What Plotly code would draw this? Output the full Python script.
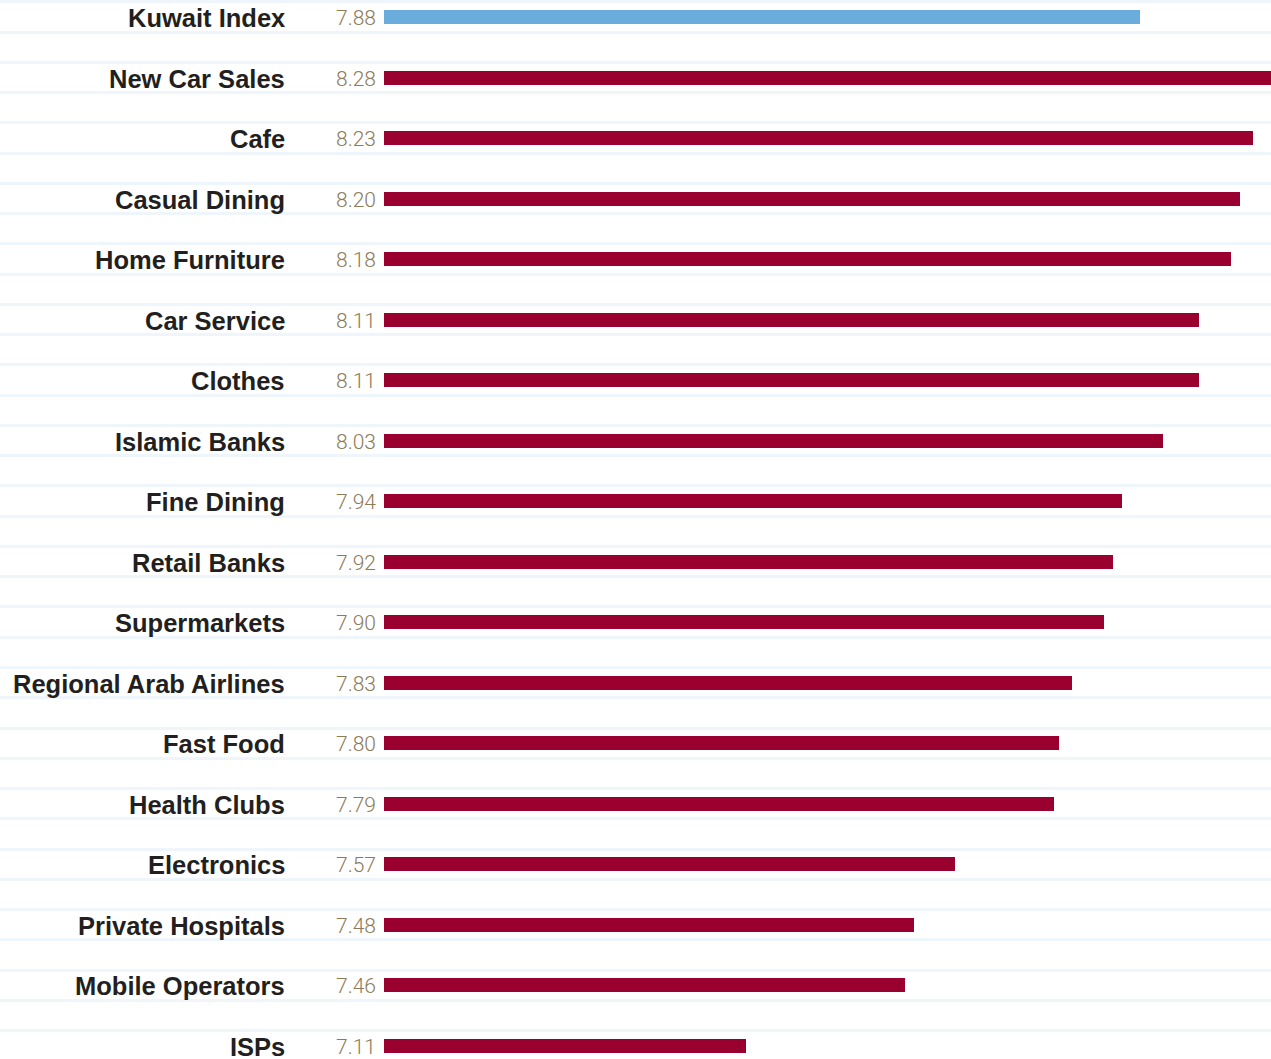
import plotly.graph_objects as go

# ---- data ----
categories = ["Kuwait Index", "New Car Sales", "Cafe", "Casual Dining", "Home Furniture",
              "Car Service", "Clothes", "Islamic Banks", "Fine Dining", "Retail Banks",
              "Supermarkets", "Regional Arab Airlines", "Fast Food", "Health Clubs",
              "Electronics", "Private Hospitals", "Mobile Operators", "ISPs"]
scores = [7.88, 8.28, 8.23, 8.20, 8.18, 8.11, 8.11, 8.03, 7.94, 7.92,
          7.90, 7.83, 7.80, 7.79, 7.57, 7.48, 7.46, 7.11]
# the source draws the index bar longer than its printed score
index_bar_length = 7.98

# ---- scale ----
AXIS_ORIGIN = 6.31          # value where bars start
X_RANGE = [5.462, 8.269]
W, H = 1271, 1059

positions = list(range(len(categories)))
bar_values = [index_bar_length] + scores[1:]
colors = ["#6aaddc"] + ["#990030"] * (len(categories) - 1)

fig = go.Figure()
fig.add_trace(go.Bar(
    y=positions,
    x=[v - AXIS_ORIGIN for v in bar_values],
    base=AXIS_ORIGIN,
    orientation="h",
    width=0.232,
    marker=dict(color=colors, line=dict(width=0)),
    hoverinfo="skip",
))

annotations = []
for pos, cat, val in zip(positions, categories, scores):
    annotations.append(dict(
        x=287 / W, xref="paper", y=pos, yref="y", yshift=-1,
        text=f"<b>{cat}</b>", showarrow=False, xanchor="right", yanchor="middle",
        font=dict(family="Liberation Sans, Arial, sans-serif", size=25.5, color="#231f20"),
    ))
    annotations.append(dict(
        x=AXIS_ORIGIN, xref="x", y=pos, yref="y", yshift=-1,
        text=f"{val:.2f}", showarrow=False, xanchor="right", yanchor="middle",
        xshift=-6,
        font=dict(family="Roboto, Liberation Sans, sans-serif", size=21, color="#8c7b58", weight=300),
    ))

fig.update_layout(
    width=W, height=H,
    margin=dict(l=0, r=0, t=0, b=0),
    paper_bgcolor="white", plot_bgcolor="white",
    showlegend=False,
    bargap=0,
    xaxis=dict(range=X_RANGE, visible=False, showgrid=False, zeroline=False, fixedrange=True),
    yaxis=dict(range=[17.22, -0.281], tickmode="linear", tick0=-0.25, dtick=0.5,
               showgrid=True, gridcolor="#eef6fb", gridwidth=3,
               showticklabels=False, zeroline=False, showline=False, ticks="",
               fixedrange=True),
    annotations=annotations,
)

fig.write_html("out.html", config={"displayModeBar": False},
               post_script="document.body.style.margin='0';document.body.style.overflow='hidden';")
